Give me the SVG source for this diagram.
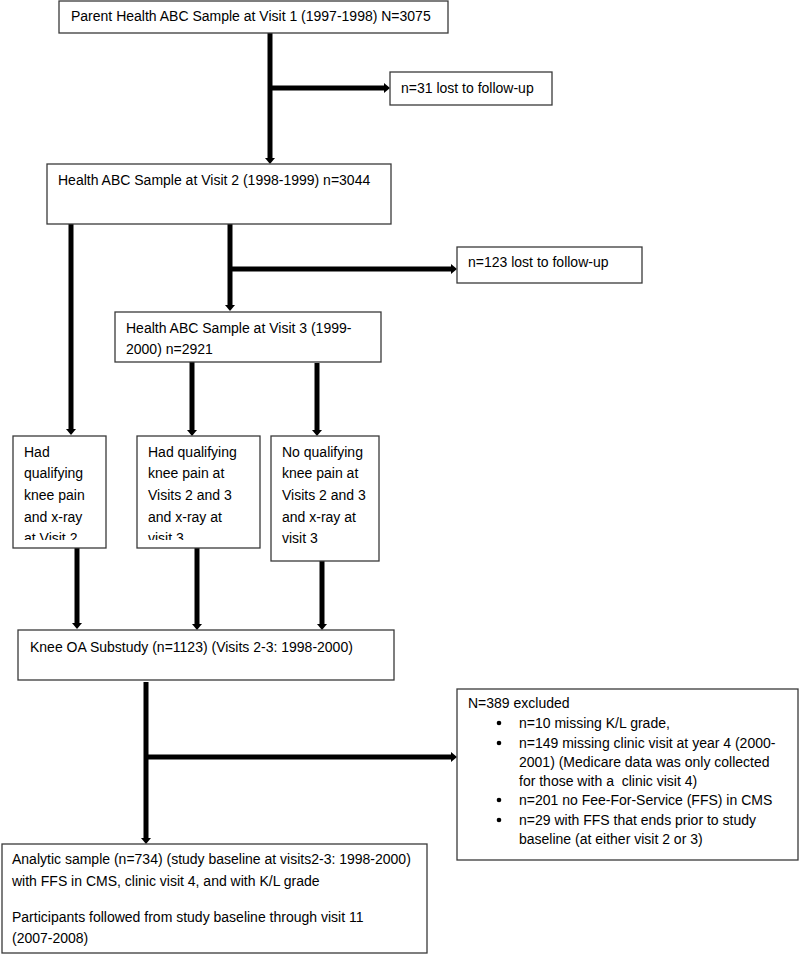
<svg xmlns="http://www.w3.org/2000/svg" width="800" height="954" viewBox="0 0 800 954">
<style>
.box{fill:#fff;stroke:#3a3a3a;stroke-width:1.3}
.t{font-family:"Liberation Sans",Arial,sans-serif;font-size:14px;fill:#000;white-space:pre}
.c{stroke:#000;stroke-width:5;fill:none}
</style>
<defs>
<marker id="ah" viewBox="0 0 6 10" refX="0" refY="5" markerWidth="6" markerHeight="10" markerUnits="userSpaceOnUse" orient="auto">
<path d="M0,0 L6,5 L0,10 z" fill="#000"/>
</marker>
<clipPath id="clipA"><rect x="13" y="436" width="93" height="104"/></clipPath>
<clipPath id="clipB"><rect x="137" y="436" width="123" height="104"/></clipPath>
</defs>
<rect width="800" height="954" fill="#fff"/>
<g id="connectors">
<path class="c" d="M270,33 V158" marker-end="url(#ah)"/>
<path class="c" d="M272,88 H384" marker-end="url(#ah)"/>
<path class="c" d="M71,224 V429" marker-end="url(#ah)"/>
<path class="c" d="M230,224 V305" marker-end="url(#ah)"/>
<path class="c" d="M232,269 H451" marker-end="url(#ah)"/>
<path class="c" d="M192,362 V430" marker-end="url(#ah)"/>
<path class="c" d="M317,363 V430" marker-end="url(#ah)"/>
<path class="c" d="M77,548 V623" marker-end="url(#ah)"/>
<path class="c" d="M197,548 V624" marker-end="url(#ah)"/>
<path class="c" d="M322,561 V624" marker-end="url(#ah)"/>
<path class="c" d="M146,682 V838" marker-end="url(#ah)"/>
<path class="c" d="M148,757 H451" marker-end="url(#ah)"/>
</g>
<g id="visit1">
<rect class="box" x="59" y="1" width="389" height="32"/>
<text class="t" x="71" y="21">Parent Health ABC Sample at Visit 1 (1997-1998) N=3075</text>
</g>
<g id="lost31">
<rect class="box" x="390" y="72" width="162" height="33"/>
<text class="t" x="401" y="93">n=31 lost to follow-up</text>
</g>
<g id="visit2">
<rect class="box" x="47" y="164" width="344" height="60"/>
<text class="t" x="58" y="185">Health ABC Sample at Visit 2 (1998-1999) n=3044</text>
</g>
<g id="lost123">
<rect class="box" x="457" y="247" width="185" height="36"/>
<text class="t" x="468" y="267">n=123 lost to follow-up</text>
</g>
<g id="visit3">
<rect class="box" x="115" y="312" width="266" height="50"/>
<text class="t" x="126" y="333">Health ABC Sample at Visit 3 (1999-</text>
<text class="t" x="126" y="354">2000) n=2921</text>
</g>
<g id="kneeV2">
<rect class="box" x="13" y="436" width="93" height="112"/>
<g clip-path="url(#clipA)">
<text class="t" x="24" y="457">Had</text>
<text class="t" x="24" y="478">qualifying</text>
<text class="t" x="24" y="500">knee pain</text>
<text class="t" x="24" y="522">and x-ray</text>
<text class="t" x="24" y="543">at Visit 2</text>
</g>
</g>
<g id="kneeV23">
<rect class="box" x="137" y="436" width="123" height="112"/>
<g clip-path="url(#clipB)">
<text class="t" x="148" y="457">Had qualifying</text>
<text class="t" x="148" y="478">knee pain at</text>
<text class="t" x="148" y="500">Visits 2 and 3</text>
<text class="t" x="148" y="522">and x-ray at</text>
<text class="t" x="148" y="543">visit 3</text>
</g>
</g>
<g id="noKnee">
<rect class="box" x="271" y="436" width="108" height="125"/>
<text class="t" x="282" y="457">No qualifying</text>
<text class="t" x="282" y="478">knee pain at</text>
<text class="t" x="282" y="500">Visits 2 and 3</text>
<text class="t" x="282" y="522">and x-ray at</text>
<text class="t" x="282" y="543">visit 3</text>
</g>
<g id="kneeOA">
<rect class="box" x="18" y="630" width="376" height="50"/>
<text class="t" x="30" y="652">Knee OA Substudy (n=1123) (Visits 2-3: 1998-2000)</text>
</g>
<g id="excluded">
<rect class="box" x="457" y="689" width="341" height="171"/>
<text class="t" x="468" y="708">N=389 excluded</text>
<circle cx="499" cy="723" r="2.3"/>
<text class="t" x="519" y="728">n=10 missing K/L grade,</text>
<circle cx="499" cy="743" r="2.3"/>
<text class="t" x="519" y="748">n=149 missing clinic visit at year 4 (2000-</text>
<text class="t" x="519" y="767">2001) (Medicare data was only collected</text>
<text class="t" x="519" y="786">for those with a  clinic visit 4)</text>
<circle cx="499" cy="800" r="2.3"/>
<text class="t" x="519" y="805">n=201 no Fee-For-Service (FFS) in CMS</text>
<circle cx="499" cy="820" r="2.3"/>
<text class="t" x="519" y="825">n=29 with FFS that ends prior to study</text>
<text class="t" x="519" y="844">baseline (at either visit 2 or 3)</text>
</g>
<g id="analytic">
<rect class="box" x="2" y="844" width="425" height="109"/>
<text class="t" x="12" y="864">Analytic sample (n=734) (study baseline at visits2-3: 1998-2000)</text>
<text class="t" x="12" y="886">with FFS in CMS, clinic visit 4, and with K/L grade</text>
<text class="t" x="12" y="922">Participants followed from study baseline through visit 11</text>
<text class="t" x="12" y="943">(2007-2008)</text>
</g>
</svg>
